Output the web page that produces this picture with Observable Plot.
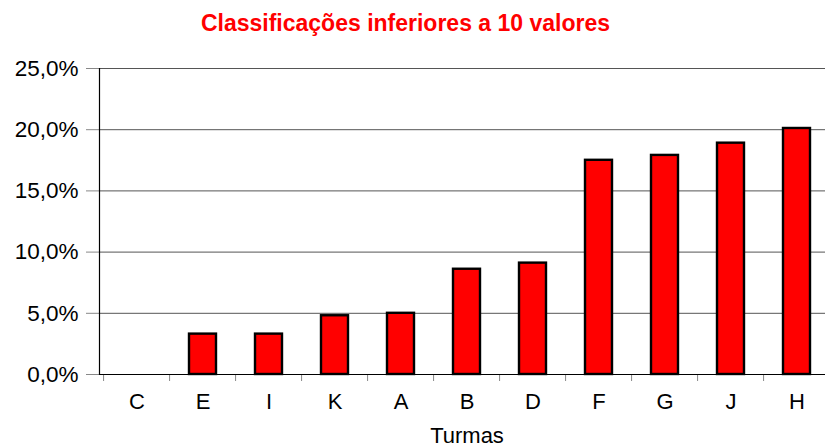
<!DOCTYPE html>
<html><head><meta charset="utf-8">
<script src="https://cdn.jsdelivr.net/npm/d3@7"></script>
<script src="https://cdn.jsdelivr.net/npm/@observablehq/plot@0.6"></script>
<style>
body{margin:0;background:#fff;font-family:"Liberation Sans",Arial,sans-serif;overflow:hidden;}
#title{height:46px;line-height:47px;text-align:center;color:#ff0000;font-weight:bold;font-size:23px;width:811px;padding-right:14px;}
</style></head><body>
<div id="title">Classificações inferiores a 10 valores</div>
<div id="chart"></div>
<script>
const turmas = ["C","E","I","K","A","B","D","F","G","J","H"];
const percentagens = [0, 3.3, 3.3, 4.8, 5.0, 8.6, 9.1, 17.5, 17.9, 18.9, 20.1];
const yTicks = [0, 5, 10, 15, 20, 25];
const xTitle = "Turmas";

const data = turmas.map((t, i) => ({turma: t, pct: percentagens[i]}));
const W = 825, H = 400, mL = 99, mR = -9;
const step = (W - mL - mR) / turmas.length;
const fmt = d => d.toFixed(1).replace(".", ",") + "%";

const plot = Plot.plot({
  width: W, height: H,
  marginLeft: mL, marginRight: mR, marginTop: 22, marginBottom: 72,
  style: {fontFamily: "Liberation Sans, Arial, sans-serif", fontSize: "22px", color: "#000", background: "#fff", overflow: "hidden"},
  x: {domain: turmas, paddingInner: 0.59, paddingOuter: 0.295, label: null},
  y: {domain: [0, 25], label: null},
  marks: [
    Plot.gridY(yTicks, {stroke: "#555", strokeOpacity: 1}),
    Plot.barY(data, {x: "turma", y: "pct", fill: "#ff0000", stroke: "#000", strokeWidth: 2.4}),
    Plot.axisY(yTicks, {tickSize: 13, tickPadding: 8, tickFormat: fmt, stroke: "#888", fill: "#000", fontSize: 22.5, label: null}),
    Plot.axisX({tickSize: 0, tickPadding: 19, fontSize: 22, fill: "#000", label: null}),
    Plot.axisX({tickSize: 7, dx: -step / 2, tickFormat: () => "", stroke: "#888", label: null}),
    Plot.ruleY([0], {stroke: "#000", strokeWidth: 1.2}),
    Plot.frame({anchor: "left", stroke: "#000", strokeWidth: 1.2}),
    Plot.text([xTitle], {text: d => d, frameAnchor: "bottom", dy: 68, fontSize: 22, fill: "#000"})
  ]
});
document.getElementById("chart").appendChild(plot);
</script>
</body></html>
